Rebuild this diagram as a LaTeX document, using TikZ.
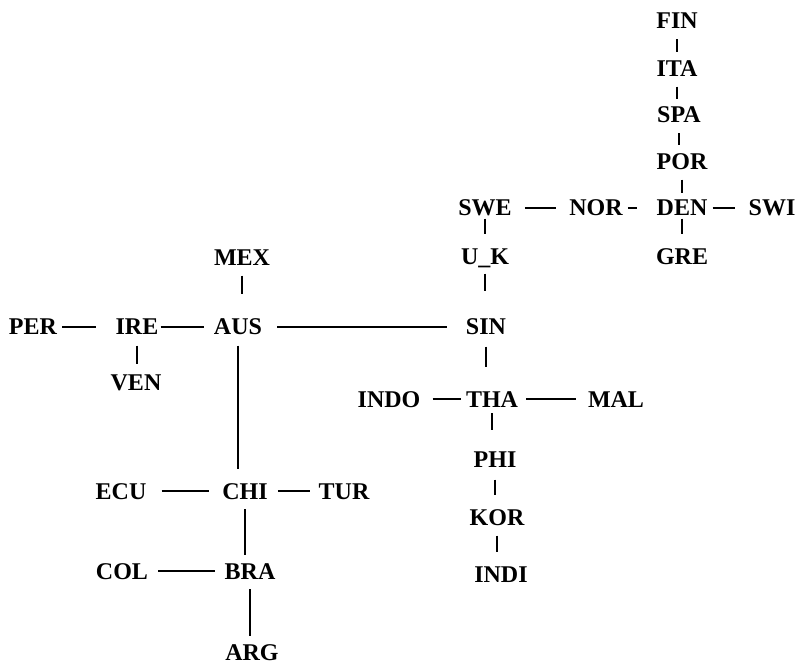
\documentclass[tikz,border=0pt]{standalone}
\usepackage{fontspec}
\setmainfont{Liberation Serif}
\tikzset{
  lbl/.style={inner sep=0pt, text height=16pt, text depth=0pt,
    font=\fontsize{24}{24}\selectfont\bfseries},
  link/.style={line width=2pt},
}
\newcommand{\vlink}[4]{\draw[link, shorten <=#3, shorten >=#4] (#1.south) -- (#1.south |- #2.north);}
\newcommand{\hlink}[4]{\draw[link, shorten <=#3, shorten >=#4] (#1.east) -- (#1.east -| #2.west);}
\begin{document}
\begin{tikzpicture}[x=1pt, y=-1pt]
\useasboundingbox (0,0) rectangle (803,666);
% nodes
\node[lbl] (FIN) at (677,21) {FIN};
\node[lbl] (ITA) at (677,68.5) {ITA};
\node[lbl] (SPA) at (679,115) {SPA};
\node[lbl] (POR) at (682,161.5) {POR};
\node[lbl] (DEN) at (682,207.5) {DEN};
\node[lbl] (GRE) at (682,256.5) {GRE};
\node[lbl] (SWI) at (772,207.5) {SWI};
\node[lbl] (NOR) at (596,207.5) {NOR};
\node[lbl] (SWE) at (485,207.5) {SWE};
\node[lbl] (UK) at (485,256.5) {U\_K};
\node[lbl] (SIN) at (486,326.5) {SIN};
\node[lbl] (MEX) at (242,257.5) {MEX};
\node[lbl] (AUS) at (238,326.5) {AUS};
\node[lbl] (IRE) at (137,326.5) {IRE};
\node[lbl] (PER) at (33,326.5) {PER};
\node[lbl] (VEN) at (136,382.5) {VEN};
\node[lbl] (INDO) at (389,399) {INDO};
\node[lbl] (THA) at (492,399) {THA};
\node[lbl] (MAL) at (616,399) {MAL};
\node[lbl] (PHI) at (495,459.5) {PHI};
\node[lbl] (KOR) at (497,517.5) {KOR};
\node[lbl] (INDI) at (501,574.5) {INDI};
\node[lbl] (ECU) at (121,491) {ECU};
\node[lbl] (CHI) at (245,491) {CHI};
\node[lbl] (TUR) at (344,491) {TUR};
\node[lbl] (COL) at (122,571) {COL};
\node[lbl] (BRA) at (250,571) {BRA};
\node[lbl] (ARG) at (252,652) {ARG};
% vertical links
\vlink{FIN}{ITA}{10pt}{8pt}
\vlink{ITA}{SPA}{10pt}{8pt}
\vlink{SPA}{POR}{10pt}{8pt}
\vlink{POR}{DEN}{10pt}{6pt}
\vlink{DEN}{GRE}{3pt}{14pt}
\vlink{SWE}{UK}{3pt}{14pt}
\vlink{UK}{SIN}{9pt}{27pt}
\vlink{MEX}{AUS}{10pt}{24pt}
\vlink{IRE}{VEN}{11pt}{10pt}
\vlink{AUS}{CHI}{11pt}{14pt}
\vlink{SIN}{THA}{12pt}{24pt}
\vlink{THA}{PHI}{6pt}{21pt}
\vlink{PHI}{KOR}{12pt}{14pt}
\vlink{KOR}{INDI}{10pt}{14pt}
\vlink{CHI}{BRA}{10pt}{8pt}
\vlink{BRA}{ARG}{10pt}{8pt}
% horizontal links
\hlink{SWE}{NOR}{13pt}{13pt}
\hlink{NOR}{DEN}{5pt}{19pt}
\hlink{DEN}{SWI}{5pt}{13pt}
\hlink{PER}{IRE}{5pt}{19pt}
\hlink{IRE}{AUS}{2pt}{10pt}
\hlink{AUS}{SIN}{15pt}{19pt}
\hlink{INDO}{THA}{12pt}{5pt}
\hlink{THA}{MAL}{8pt}{12pt}
\hlink{ECU}{CHI}{15pt}{13pt}
\hlink{CHI}{TUR}{10pt}{8pt}
\hlink{COL}{BRA}{10pt}{9pt}
\end{tikzpicture}
\end{document}
